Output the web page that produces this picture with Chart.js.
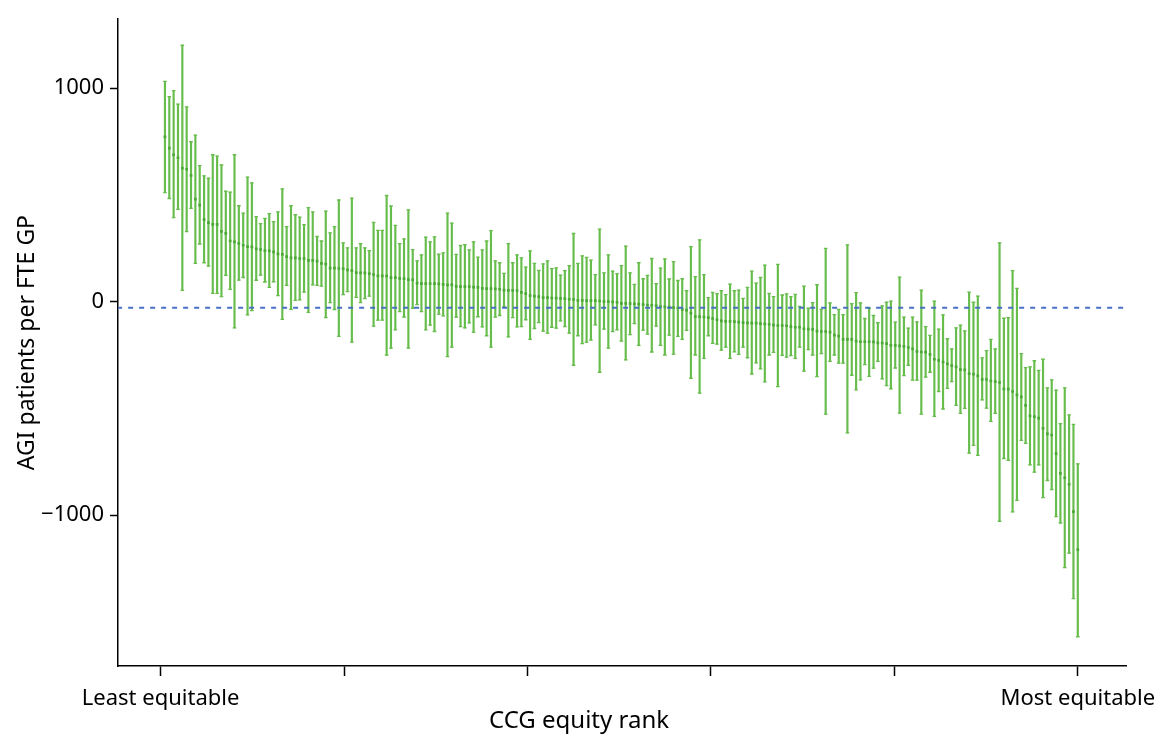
<!DOCTYPE html>
<html>
<head>
<meta charset="utf-8">
<script src="https://cdn.jsdelivr.net/npm/chart.js@4.4.1/dist/chart.umd.min.js"></script>
<style>
  html, body { margin: 0; padding: 0; background: #fff; }
</style>
</head>
<body>
<canvas id="myChart" width="1167" height="740"></canvas>
<script>
// point estimate and 95% interval for each CCG, in equity rank order (1 = least equitable)
const est = [772,719,688,674,625,620,591,480,452,384,
  370,362,362,329,320,284,280,273,264,258,
  256,247,244,239,238,233,224,221,211,205,
  205,202,202,193,193,190,179,176,157,157,
  155,154,149,145,136,135,135,131,127,121,
  121,120,112,112,109,108,103,102,87,84,
  84,84,84,83,81,78,78,71,70,70,
  70,68,67,62,61,61,60,58,54,53,
  53,52,43,37,28,26,23,19,19,17,
  16,15,14,11,10,6,6,5,5,5,
  3,0,0,-1,-3,-8,-8,-9,-11,-12,
  -14,-16,-17,-19,-23,-25,-26,-28,-30,-36,
  -40,-54,-70,-70,-72,-75,-79,-85,-90,-93,
  -93,-94,-96,-98,-100,-101,-101,-103,-104,-106,
  -110,-112,-112,-113,-117,-120,-120,-127,-129,-130,
  -138,-140,-140,-143,-157,-162,-177,-177,-177,-185,
  -188,-188,-188,-189,-193,-194,-197,-205,-205,-207,
  -210,-215,-221,-233,-236,-237,-247,-270,-275,-283,
  -292,-300,-306,-319,-320,-337,-340,-348,-364,-365,
  -372,-375,-379,-409,-410,-421,-437,-446,-486,-535,
  -539,-546,-594,-620,-625,-712,-805,-825,-856,-984,
  -1162];

const upper = [1032,960,988,925,1201,912,749,780,637,589,
  578,688,682,640,517,513,688,449,415,583,
  556,398,365,390,412,375,420,528,351,449,
  407,396,361,440,420,305,284,424,322,351,
  476,275,252,485,252,271,252,239,371,334,
  334,497,448,357,272,294,430,244,191,219,
  302,280,303,222,228,415,368,221,263,267,
  242,280,208,242,284,333,191,182,132,272,
  182,219,205,162,238,179,146,177,191,155,
  158,124,145,169,319,179,214,207,194,126,
  340,135,219,143,131,169,260,135,81,182,
  107,123,202,84,157,200,106,187,99,107,
  51,258,117,289,126,19,43,37,51,33,
  82,51,54,15,67,143,87,113,171,39,
  23,174,31,36,23,34,-22,73,-31,-5,
  79,-36,249,-6,-61,-36,-61,266,-9,42,
  -6,-79,-31,-65,-99,-20,-3,2,-96,115,
  -73,-124,-73,-95,54,-117,-158,2,-129,-62,
  -174,-222,-123,-110,-137,44,-3,26,-264,-230,
  -177,-222,275,-78,-75,145,62,-244,-309,-306,
  -277,-322,-270,-404,-367,-415,-572,-404,-531,-575,
  -760];

const lower = [511,483,393,432,53,328,437,179,270,182,
  166,39,39,23,123,57,-123,101,113,-62,
  -42,100,124,92,67,93,28,-83,76,-36,
  6,8,44,-50,78,76,73,-75,-5,-37,
  -163,33,47,-190,20,-5,14,26,-115,-87,
  -87,-250,-218,-132,-47,-72,-218,-31,-14,-47,
  -132,-110,-140,-59,-67,-258,-213,-72,-117,-123,
  -100,-143,-71,-118,-160,-213,-73,-65,-25,-165,
  -75,-118,-117,-85,-177,-126,-98,-138,-148,-120,
  -124,-90,-117,-148,-298,-160,-197,-190,-180,-109,
  -331,-129,-218,-141,-132,-185,-273,-155,-103,-205,
  -134,-152,-236,-115,-205,-250,-157,-246,-163,-177,
  -135,-359,-250,-429,-266,-160,-196,-199,-227,-213,
  -266,-235,-247,-213,-263,-339,-287,-315,-376,-250,
  -238,-398,-252,-260,-253,-266,-213,-326,-225,-250,
  -351,-244,-527,-280,-250,-288,-288,-615,-345,-413,
  -367,-295,-350,-312,-280,-362,-394,-409,-311,-522,
  -347,-298,-368,-368,-527,-354,-331,-538,-421,-503,
  -406,-375,-486,-524,-500,-710,-673,-720,-460,-499,
  -561,-524,-1029,-735,-744,-985,-931,-650,-664,-765,
  -799,-765,-918,-838,-881,-1007,-1037,-1246,-1178,-1391,
  -1570];

const ranks = est.map((_, i) => i + 1);

const xTicks = [0, 42.2, 84.4, 126.6, 168.8, 211];
const xTickLabels = ['Least equitable', '', '', '', '', 'Most equitable'];
const yTicks = [1000, 0, -1000];
const refLine = -29;

const GREEN = '#67bd4c';
const DARK = '#4aa834';
const FONT = 'Noto Sans';

// x axis title sits centred under the whole figure, not under the plot box
const xTitle = {
  id: 'xTitle',
  afterDraw(chart) {
    const c = chart.ctx;
    c.save();
    c.font = '24px "' + FONT + '"';
    c.fillStyle = '#000';
    c.textAlign = 'center';
    c.textBaseline = 'middle';
    c.fillText('CCG equity rank', 579, 721);
    c.restore();
  }
};

const ctx = document.getElementById('myChart');

new Chart(ctx, {
  type: 'bar',
  data: {
    datasets: [
      {
        type: 'line',
        data: [{x: -10, y: refLine}, {x: 223, y: refLine}],
        borderColor: '#4a70c6',
        borderWidth: 2,
        borderDash: [5, 6],
        pointRadius: 0,
        order: 0
      },
      {
        type: 'bar',
        data: ranks.map((r, i) => ({x: r, y: [lower[i], upper[i]]})),
        backgroundColor: GREEN,
        borderWidth: 0,
        barThickness: 1.5,
        order: 4
      },
      {
        type: 'scatter',
        data: ranks.map((r, i) => ({x: r, y: upper[i]})),
        pointStyle: 'line',
        radius: 1.8,
        borderColor: GREEN,
        borderWidth: 1.3,
        order: 3
      },
      {
        type: 'scatter',
        data: ranks.map((r, i) => ({x: r, y: lower[i]})),
        pointStyle: 'line',
        radius: 1.8,
        borderColor: GREEN,
        borderWidth: 1.3,
        order: 3
      },
      {
        type: 'scatter',
        data: ranks.map((r, i) => ({x: r, y: est[i]})),
        pointStyle: 'rect',
        radius: 1.9,
        backgroundColor: DARK,
        borderWidth: 0,
        order: 2
      }
    ]
  },
  options: {
    responsive: false,
    animation: false,
    layout: {
      autoPadding: false,
      padding: {top: 8, right: 40, left: 0, bottom: 0}
    },
    plugins: {
      legend: {display: false},
      tooltip: {enabled: false}
    },
    scales: {
      x: {
        type: 'linear',
        min: -9.8,
        max: 222.1,
        offset: false,
        grid: {
          offset: false,
          drawOnChartArea: false,
          drawTicks: true,
          tickLength: 10,
          tickColor: '#000',
          tickWidth: 1.5
        },
        border: {color: '#000', width: 1.5},
        afterBuildTicks: s => { s.ticks = xTicks.map(v => ({value: v})); },
        afterFit: s => { s.height = 74; },
        ticks: {
          autoSkip: false,
          maxRotation: 0,
          color: '#000',
          padding: 10,
          font: {family: FONT, size: 22},
          callback: (v, i) => xTickLabels[i]
        }
      },
      y: {
        type: 'linear',
        min: -1707,
        max: 1323,
        grid: {
          drawOnChartArea: false,
          drawTicks: true,
          tickLength: 8,
          tickColor: '#000',
          tickWidth: 1.5
        },
        border: {color: '#000', width: 1.5},
        afterBuildTicks: s => { s.ticks = yTicks.map(v => ({value: v})); },
        afterFit: s => { s.width = 118; },
        ticks: {
          color: '#000',
          padding: 6,
          font: {family: FONT, size: 22},
          callback: v => v < 0 ? '\u2212' + Math.abs(v) : String(v)
        },
        title: {
          display: true,
          text: 'AGI patients per FTE GP',
          color: '#000',
          font: {family: FONT, size: 23},
          padding: {top: 14, bottom: 0}
        }
      }
    }
  },
  plugins: [xTitle]
});
</script>
</body>
</html>
